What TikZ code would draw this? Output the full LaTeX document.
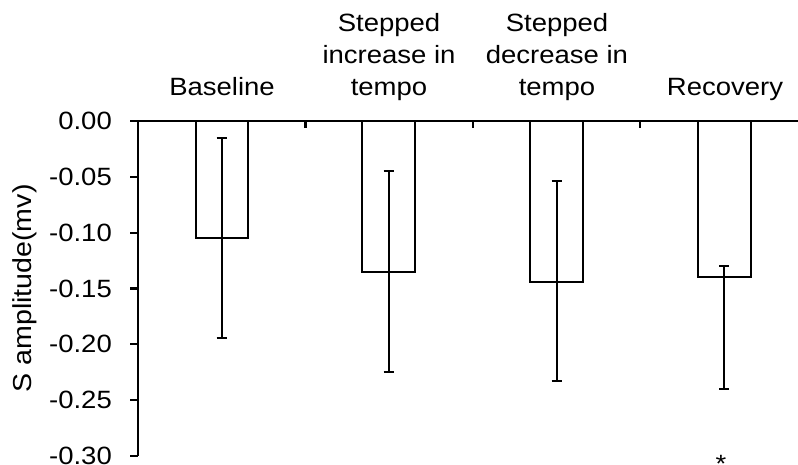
\documentclass[tikz,border=0pt]{standalone}
\usepackage{fontspec}
\setmainfont{Liberation Sans}[FakeStretch=1.1]
\begin{document}
\begin{tikzpicture}[x=1pt,y=-1pt,
  axisline/.style={line width=2.2pt, black},
  barbox/.style={draw=black, line width=2pt, fill=white},
  errbar/.style={line width=2pt, black},
  ticklab/.style={anchor=east, inner sep=0pt, font=\fontsize{25}{30}\selectfont},
  catlab/.style={align=center, inner sep=0pt, anchor=base, font=\fontsize{25}{32}\selectfont},
  ylab/.style={rotate=90, inner sep=0pt, font=\fontsize{26}{30}\selectfont},
]
\useasboundingbox (0,0) rectangle (798,465);
% bars
\draw[barbox] (196,121) rectangle (248,238);
\draw[barbox] (362.3,121) rectangle (415.3,271.7);
\draw[barbox] (530,121) rectangle (583,281.7);
\draw[barbox] (697.7,121) rectangle (750.7,277);
% error bars
\foreach \cx/\lo/\hi in {221.7/138/338, 388.5/171/372, 556.7/181.3/381.3, 724.3/265.7/389}{
  \draw[errbar] (\cx,\lo) -- (\cx,\hi);
  \draw[errbar] (\cx-5,\lo) -- (\cx+5,\lo);
  \draw[errbar] (\cx-5,\hi) -- (\cx+5,\hi);
}
% axes
\draw[axisline] (138,121) -- (138,456);
\draw[axisline] (130,121) -- (798,121);
\foreach \i/\lab in {0/0.00,1/-0.05,2/-0.10,3/-0.15,4/-0.20,5/-0.25,6/-0.30}{
  \draw[axisline] (130,121+55.83*\i) -- (138,121+55.83*\i);
  \node[ticklab] (t\i) at (112,121+55.83*\i) {\lab};
}
\foreach \x in {305.5,472.7,640.3}{
  \draw[axisline] (\x,121) -- (\x,128);
}
% labels
\node[ylab] (ylabel) at (25,288.5) {S amplitude(mv)};
\node[catlab] (c1) at (222,96) {Baseline};
\node[catlab] (c2) at (389,96) {Stepped\\increase in\\tempo};
\node[catlab] (c3) at (557,96) {Stepped\\decrease in\\tempo};
\node[catlab] (c4) at (725,96) {Recovery};
\node[inner sep=0pt, font=\fontsize{25}{30}\selectfont] (star) at (721,458) {\raisebox{-14.3pt}[3pt][3pt]{*}};
\end{tikzpicture}
\end{document}
